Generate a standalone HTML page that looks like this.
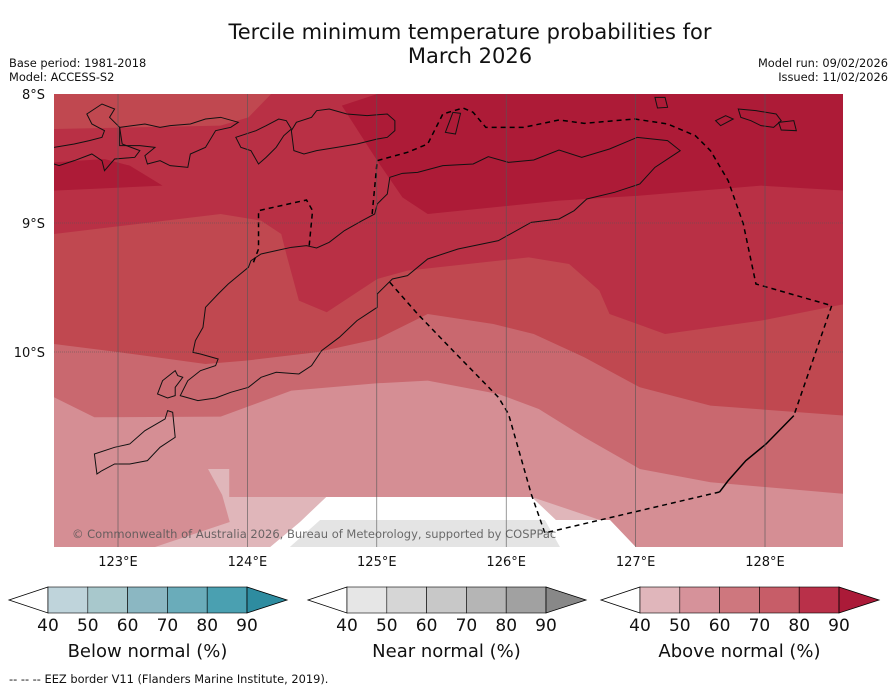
<!DOCTYPE html>
<html><head><meta charset="utf-8"><style>
body{margin:0;background:#fff;width:896px;height:690px;overflow:hidden;font-family:"DejaVu Sans","Liberation Sans",sans-serif}
svg{display:block}
</style></head><body>
<svg id="root" width="896" height="690" viewBox="0 0 896 690" xmlns="http://www.w3.org/2000/svg" font-family="DejaVu Sans, Liberation Sans, sans-serif">
<text x="470" y="39" font-size="21" text-anchor="middle" fill="#111">Tercile minimum temperature probabilities for</text>
<text x="470" y="63" font-size="21" text-anchor="middle" fill="#111">March 2026</text>
<text x="9" y="67" font-size="11.4" fill="#111">Base period: 1981-2018</text>
<text x="9" y="81" font-size="11.4" fill="#111">Model: ACCESS-S2</text>
<text x="888" y="67" font-size="11.4" fill="#111" text-anchor="end">Model run: 09/02/2026</text>
<text x="888" y="81" font-size="11.4" fill="#111" text-anchor="end">Issued: 11/02/2026</text>

<defs><clipPath id="mapclip"><rect x="54" y="94" width="789" height="453"/></clipPath></defs>
<g clip-path="url(#mapclip)">
 <g transform="translate(54,94) scale(0.505,0.3333)">
  <rect x="0" y="0" width="1566" height="1360" fill="#b93045"/>
  <polygon fill="#c04850" points="0,0 430,0 385,70 330,95 0,105"/>
  <polygon fill="#ad1b37" points="0,205 100,195 150,215 215,275 0,290"/>
  <polygon fill="#ad1b37" points="570,35 640,0 1566,0 1566,290 1400,275 1160,305 1000,320 740,360 690,310 640,200"/>
  <polygon fill="#c04850" points="0,420 330,360 410,380 450,420 460,480 485,620 540,655 640,555 700,530 940,490 1020,510 1080,590 1100,660 1210,720 1400,680 1566,630 1566,1360 0,1360"/>
  <polygon fill="#c9686f" points="0,750 130,775 300,810 380,800 520,775 640,735 740,660 870,690 950,720 1050,790 1160,880 1300,935 1566,965 1566,1360 0,1360"/>
  <polygon fill="#d58e94" points="0,910 80,970 330,968 470,890 640,868 740,860 880,900 960,945 1050,1030 1160,1125 1300,1165 1566,1200 1566,1360 0,1360"/>
  <polygon fill="#e0b6ba" points="305,1125 347,1125 347,1209 539,1209 487,1284 428,1359 200,1359 348,1284 333,1203"/>
  <polygon fill="#e0b6ba" points="946,1209 1081,1278 994,1278"/>
  <polygon fill="#ffffff" points="539,1209 946,1209 994,1278 1101,1278 1152,1359 428,1359 487,1284"/>
  <polygon fill="#e4e4e4" points="527,1278 972,1278 1002,1359 467,1359"/>
  <g fill="none" stroke="#111" stroke-width="1">
   <path vector-effect="non-scaling-stroke" d="M665,250 L690,238 720,235 770,215 830,210 860,188 900,205 950,198 1000,168 1045,190 1100,165 1155,130 1215,140 1240,170 1190,220 1160,270 1110,295 1055,315 1030,350 1000,375 945,385 880,440 800,465 740,495 700,545 670,555 640,600 640,640 600,680 565,730 530,770 510,815 485,840 440,835 410,850 385,880 350,895 320,912 285,920 250,905 265,860 290,830 320,815 325,795 290,780 275,775 280,740 295,700 300,640 325,600 345,570 365,545 385,520 390,500 410,480 440,470 470,460 500,455 520,462 545,445 575,410 610,380 635,360 640,330 660,300 Z"/>
   <path vector-effect="non-scaling-stroke" d="M205,900 L215,860 240,830 245,845 255,850 240,880 240,905 225,912 Z"/>
   <path vector-effect="non-scaling-stroke" d="M80,1080 L120,1060 150,1050 180,1010 220,975 225,950 235,955 240,1030 210,1060 185,1100 150,1110 120,1110 95,1130 85,1140 Z"/>
   <path vector-effect="non-scaling-stroke" d="M0,160 L40,150 70,140 95,130 100,110 75,90 65,60 95,30 120,45 110,70 130,100 135,150 170,170 160,190 120,195 100,230 95,200 75,180 40,200 10,215 0,210"/>
   <path vector-effect="non-scaling-stroke" d="M130,100 L180,90 210,100 230,95 270,90 300,75 330,70 365,85 350,100 320,110 300,160 270,180 265,220 230,215 210,200 185,210 180,185 200,160 170,155 130,155 Z"/>
   <path vector-effect="non-scaling-stroke" d="M360,130 L400,110 420,95 445,75 460,80 470,105 455,125 440,160 420,190 405,210 390,170 370,160 Z"/>
   <path vector-effect="non-scaling-stroke" d="M470,110 L480,85 510,70 520,50 545,45 580,60 620,65 660,60 675,80 675,110 660,130 640,135 600,150 560,160 520,170 495,180 475,170 Z"/>
   <path vector-effect="non-scaling-stroke" d="M790,55 L805,58 795,120 775,115 Z"/>
   <path vector-effect="non-scaling-stroke" d="M1190,10 L1210,10 1215,40 1195,42 Z"/>
   <path vector-effect="non-scaling-stroke" d="M1355,45 L1390,50 1430,60 1440,80 1425,100 1400,95 1380,80 1360,70 Z"/>
   <path vector-effect="non-scaling-stroke" d="M1310,80 L1330,65 1345,75 1320,95 Z"/>
   <path vector-effect="non-scaling-stroke" d="M1435,85 L1465,80 1470,110 1440,108 Z"/>
  </g>
  <g fill="none" stroke="#000" stroke-width="1.5">
   <polyline vector-effect="non-scaling-stroke" stroke-dasharray="5,4" points="395,505 405,465 405,350 500,318 512,350 505,460"/>
   <polyline vector-effect="non-scaling-stroke" stroke-dasharray="5,4" points="630,360 640,200 700,175 740,150 770,60 810,42 830,55 855,100 930,100 1000,78 1050,88 1150,75 1215,90 1270,125 1300,170 1335,260 1365,390 1390,570 1540,635 1465,965"/>
   <polyline vector-effect="non-scaling-stroke" points="1465,965 1410,1050 1370,1100 1335,1160 1318,1194"/>
   <polyline vector-effect="non-scaling-stroke" stroke-dasharray="5,4" points="1318,1194 972,1317"/>
   <polyline vector-effect="non-scaling-stroke" stroke-dasharray="5,4" points="665,565 720,660 790,770 880,910 900,960 945,1200 972,1317"/>
  </g>
 </g>
 <g id="grid" stroke="#555" stroke-width="0.6"></g>
 <text x="72" y="538" font-size="11.5" fill="#555" fill-opacity="0.85">© Commonwealth of Australia 2026, Bureau of Meteorology, supported by COSPPac</text>
</g>
<g id="axes" font-size="13" fill="#111"></g>
<g id="cbars"></g>
<text x="9" y="683" font-size="11.4" fill="#111">--  --  -- EEZ border V11 (Flanders Marine Institute, 2019).</text>
</svg>
<script>
const lonTicks = [123,124,125,126,127,128];
const latTicks = [8,9,10];
const cbTicks = [40,50,60,70,80,90];
const cbTitles = ["Below normal (%)","Near normal (%)","Above normal (%)"];
const cbNames = ["below-normal","near-normal","above-normal"];
const cbColors = [
 ["#bfd4db","#a8c8cc","#8bb7c2","#6aacba","#4aa0b1","#2e8ca0"],
 ["#e6e6e6","#d6d6d6","#c8c8c8","#b5b5b5","#a1a1a1","#888888"],
 ["#e0b6bb","#d6929a","#ce777e","#c75d68","#b93049","#ab1a38"]
];
const NS="http://www.w3.org/2000/svg";
const xLon = l => 118 + (l-123)*129.4;
const yLat = l => 94 + (l-8)*129;
function mk(tag, attrs, parent){const e=document.createElementNS(NS,tag);for(const k in attrs)e.setAttribute(k,attrs[k]);parent.appendChild(e);return e;}
const grid=document.getElementById('grid'), axes=document.getElementById('axes'), cb=document.getElementById('cbars');
lonTicks.forEach(l=>{
 const ln=mk('line',{x1:xLon(l),x2:xLon(l),y1:94,y2:547},grid);
 
 
 const t=mk('text',{x:xLon(l),y:566,'text-anchor':'middle'},axes);t.textContent=l+'°E';
 
 
});
latTicks.forEach(l=>{
 if(l>8){const ln=mk('line',{x1:54,x2:843,y1:yLat(l),y2:yLat(l),'stroke-dasharray':'1,1'},grid);
 
 }
 const t=mk('text',{x:45,y:yLat(l)+5,'text-anchor':'end'},axes);t.textContent=l+'°S';
 
 
});
const cbX=[48,347,640], cbW=199, cbY=587, cbH=26;
cbX.forEach((x0,i)=>{
 const g=mk('g',{},cb);
 
 
 const step=cbW/(cbTicks.length-1);
 const lt=mk('polygon',{points:`${x0},${cbY} ${x0-39},${cbY+cbH/2} ${x0},${cbY+cbH}`,fill:'#fff',stroke:'#000','stroke-width':0.8},g);
 
 
 for(let k=0;k<cbTicks.length-1;k++){
  const r=mk('rect',{x:x0+k*step,y:cbY,width:step,height:cbH,fill:cbColors[i][k],stroke:'#000','stroke-width':0.6},g);
  
  
 }
 const rt=mk('polygon',{points:`${x0+cbW},${cbY} ${x0+cbW+40},${cbY+cbH/2} ${x0+cbW},${cbY+cbH}`,fill:cbColors[i][5],stroke:'#000','stroke-width':0.8},g);
 
 
 cbTicks.forEach((v,k)=>{
  const t=mk('text',{x:x0+k*step,y:631,'font-size':17,'text-anchor':'middle',fill:'#111'},g);t.textContent=v;
  
  
 });
 const tt=mk('text',{x:x0+cbW/2,y:657,'font-size':18,'text-anchor':'middle',fill:'#111'},g);tt.textContent=cbTitles[i];
 
 
});
</script>
</body></html>
